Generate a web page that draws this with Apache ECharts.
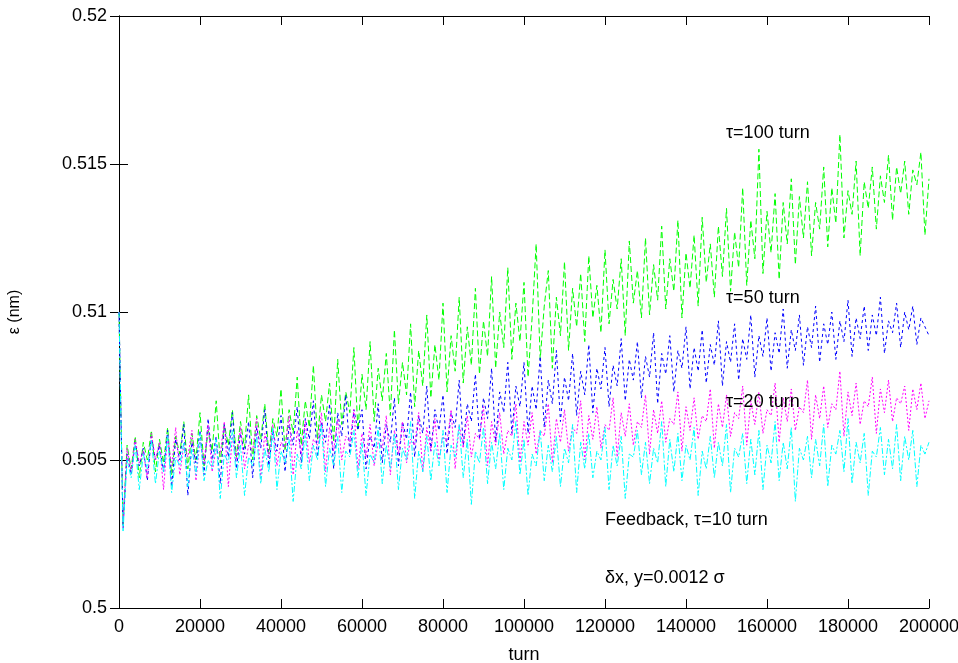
<!DOCTYPE html>
<html>
<head>
<meta charset="utf-8">
<script src="https://cdn.jsdelivr.net/npm/echarts@6/dist/echarts.min.js"></script>
<style>
    html, body { margin: 0; padding: 0; background: #fff; }
    #chart { width: 958px; height: 663px; }
</style>
</head>
<body>
<div id="chart"></div>
<script>
// sample spacing of the runs (turns)
const turnStep = 1000

// tau = 100 turn
const tau100 = [
    0.5100, 0.5028, 0.5055, 0.5047, 0.5058, 0.5044, 0.5056, 0.5050, 0.5060, 0.5046,
    0.5057, 0.5049, 0.5061, 0.5045, 0.5058, 0.5052, 0.5063, 0.5047, 0.5059, 0.5050,
    0.5066, 0.5048, 0.5060, 0.5053, 0.5070, 0.5049, 0.5062, 0.5055, 0.5067, 0.5051,
    0.5063, 0.5054, 0.5072, 0.5050, 0.5065, 0.5057, 0.5069, 0.5052, 0.5064, 0.5058,
    0.5074, 0.5053, 0.5067, 0.5059, 0.5078, 0.5055, 0.5070, 0.5061, 0.5082, 0.5057,
    0.5072, 0.5063, 0.5076, 0.5056, 0.5084, 0.5062, 0.5073, 0.5066, 0.5088, 0.5060,
    0.5079, 0.5067, 0.5090, 0.5063, 0.5081, 0.5070, 0.5086, 0.5065, 0.5094, 0.5069,
    0.5083, 0.5072, 0.5096, 0.5068, 0.5087, 0.5075, 0.5099, 0.5071, 0.5089, 0.5077,
    0.5103, 0.5073, 0.5092, 0.5080, 0.5105, 0.5076, 0.5095, 0.5082, 0.5108, 0.5079,
    0.5097, 0.5085, 0.5112, 0.5081, 0.5100, 0.5088, 0.5115, 0.5084, 0.5103, 0.5090,
    0.5110, 0.5078, 0.5098, 0.5123, 0.5084, 0.5102, 0.5114, 0.5081, 0.5105, 0.5092,
    0.5117, 0.5087, 0.5108, 0.5095, 0.5113, 0.5090, 0.5119, 0.5098, 0.5109, 0.5093,
    0.5121, 0.5096, 0.5111, 0.5101, 0.5118, 0.5092, 0.5124, 0.5103, 0.5114, 0.5098,
    0.5125, 0.5099, 0.5116, 0.5104, 0.5129, 0.5101, 0.5118, 0.5107, 0.5131, 0.5098,
    0.5120, 0.5108, 0.5126, 0.5102, 0.5132, 0.5110, 0.5123, 0.5105, 0.5129, 0.5112,
    0.5135, 0.5107, 0.5127, 0.5115, 0.5142, 0.5109, 0.5131, 0.5118, 0.5155, 0.5113,
    0.5134, 0.5120, 0.5140, 0.5111, 0.5137, 0.5123, 0.5145, 0.5116, 0.5139, 0.5125,
    0.5144, 0.5119, 0.5137, 0.5128, 0.5149, 0.5122, 0.5142, 0.5130, 0.5160, 0.5125,
    0.5141, 0.5133, 0.5151, 0.5119, 0.5144, 0.5135, 0.5149, 0.5128, 0.5146, 0.5137,
    0.5153, 0.5131, 0.5149, 0.5140, 0.5151, 0.5133, 0.5148, 0.5143, 0.5154, 0.5126,
    0.5145
]

// tau = 50 turn
const tau50 = [
    0.5100, 0.5027, 0.5052, 0.5045, 0.5056, 0.5048, 0.5054, 0.5043, 0.5058, 0.5050,
    0.5055, 0.5046, 0.5060, 0.5041, 0.5057, 0.5050, 0.5062, 0.5038, 0.5056, 0.5049,
    0.5060, 0.5045, 0.5064, 0.5050, 0.5058, 0.5042, 0.5062, 0.5051, 0.5066, 0.5047,
    0.5059, 0.5052, 0.5063, 0.5044, 0.5061, 0.5054, 0.5067, 0.5048, 0.5060, 0.5053,
    0.5065, 0.5046, 0.5062, 0.5055, 0.5068, 0.5049, 0.5064, 0.5057, 0.5070, 0.5051,
    0.5063, 0.5056, 0.5069, 0.5047, 0.5066, 0.5058, 0.5072, 0.5052, 0.5067, 0.5060,
    0.5067, 0.5047, 0.5058, 0.5054, 0.5069, 0.5049, 0.5062, 0.5056, 0.5071, 0.5048,
    0.5063, 0.5057, 0.5073, 0.5051, 0.5065, 0.5059, 0.5075, 0.5053, 0.5067, 0.5060,
    0.5072, 0.5052, 0.5066, 0.5061, 0.5077, 0.5055, 0.5069, 0.5063, 0.5079, 0.5057,
    0.5071, 0.5064, 0.5081, 0.5056, 0.5073, 0.5066, 0.5083, 0.5059, 0.5075, 0.5068,
    0.5083, 0.5059, 0.5075, 0.5067, 0.5085, 0.5061, 0.5077, 0.5069, 0.5087, 0.5063,
    0.5078, 0.5070, 0.5086, 0.5065, 0.5080, 0.5072, 0.5089, 0.5066, 0.5081, 0.5074,
    0.5088, 0.5068, 0.5082, 0.5075, 0.5091, 0.5070, 0.5084, 0.5077, 0.5090, 0.5071,
    0.5085, 0.5078, 0.5093, 0.5069, 0.5086, 0.5079, 0.5092, 0.5073, 0.5087, 0.5081,
    0.5095, 0.5074, 0.5088, 0.5080, 0.5094, 0.5076, 0.5089, 0.5082, 0.5097, 0.5075,
    0.5090, 0.5083, 0.5096, 0.5077, 0.5091, 0.5084, 0.5099, 0.5078, 0.5092, 0.5085,
    0.5098, 0.5080, 0.5093, 0.5086, 0.5101, 0.5081, 0.5094, 0.5087, 0.5099, 0.5082,
    0.5095, 0.5088, 0.5102, 0.5083, 0.5096, 0.5089, 0.5100, 0.5084, 0.5097, 0.5090,
    0.5104, 0.5085, 0.5098, 0.5091, 0.5102, 0.5087, 0.5099, 0.5092, 0.5105, 0.5086,
    0.5097, 0.5093, 0.5103, 0.5088, 0.5100, 0.5094, 0.5102, 0.5089, 0.5098, 0.5095,
    0.5092
]

// tau = 20 turn
const tau20 = [
    0.5100, 0.5029, 0.5054, 0.5046, 0.5057, 0.5049, 0.5053, 0.5044, 0.5059, 0.5050,
    0.5056, 0.5040, 0.5058, 0.5048, 0.5061, 0.5045, 0.5055, 0.5051, 0.5060, 0.5043,
    0.5057, 0.5049, 0.5062, 0.5046, 0.5054, 0.5052, 0.5063, 0.5041, 0.5058, 0.5050,
    0.5061, 0.5047, 0.5055, 0.5053, 0.5064, 0.5044, 0.5059, 0.5051, 0.5062, 0.5048,
    0.5056, 0.5054, 0.5065, 0.5045, 0.5060, 0.5052, 0.5063, 0.5049, 0.5057, 0.5055,
    0.5066, 0.5046, 0.5061, 0.5053, 0.5064, 0.5050, 0.5058, 0.5056, 0.5067, 0.5047,
    0.5059, 0.5051, 0.5062, 0.5048, 0.5056, 0.5054, 0.5065, 0.5045, 0.5060, 0.5052,
    0.5063, 0.5049, 0.5057, 0.5055, 0.5066, 0.5046, 0.5061, 0.5053, 0.5064, 0.5050,
    0.5058, 0.5056, 0.5067, 0.5047, 0.5062, 0.5054, 0.5065, 0.5051, 0.5059, 0.5057,
    0.5068, 0.5048, 0.5063, 0.5055, 0.5066, 0.5052, 0.5060, 0.5058, 0.5069, 0.5049,
    0.5063, 0.5055, 0.5066, 0.5052, 0.5060, 0.5058, 0.5069, 0.5049, 0.5064, 0.5056,
    0.5067, 0.5053, 0.5061, 0.5059, 0.5070, 0.5050, 0.5065, 0.5057, 0.5068, 0.5054,
    0.5062, 0.5060, 0.5071, 0.5051, 0.5066, 0.5058, 0.5069, 0.5055, 0.5063, 0.5061,
    0.5072, 0.5052, 0.5067, 0.5059, 0.5070, 0.5056, 0.5064, 0.5062, 0.5073, 0.5053,
    0.5068, 0.5060, 0.5071, 0.5057, 0.5065, 0.5063, 0.5074, 0.5054, 0.5069, 0.5061,
    0.5072, 0.5058, 0.5066, 0.5064, 0.5075, 0.5055, 0.5070, 0.5062, 0.5073, 0.5059,
    0.5067, 0.5065, 0.5076, 0.5056, 0.5071, 0.5063, 0.5074, 0.5060, 0.5068, 0.5066,
    0.5077, 0.5057, 0.5072, 0.5064, 0.5075, 0.5061, 0.5069, 0.5067, 0.5080, 0.5058,
    0.5073, 0.5065, 0.5076, 0.5062, 0.5070, 0.5068, 0.5078, 0.5059, 0.5074, 0.5066,
    0.5077, 0.5063, 0.5071, 0.5069, 0.5075, 0.5060, 0.5074, 0.5067, 0.5076, 0.5064,
    0.5070
]

// feedback, tau = 10 turn
const tau10 = [
    0.5100, 0.5026, 0.5050, 0.5044, 0.5055, 0.5040, 0.5052, 0.5047, 0.5057, 0.5042,
    0.5053, 0.5046, 0.5058, 0.5039, 0.5051, 0.5048, 0.5056, 0.5041, 0.5054, 0.5045,
    0.5059, 0.5043, 0.5050, 0.5047, 0.5057, 0.5037, 0.5052, 0.5049, 0.5060, 0.5044,
    0.5055, 0.5038, 0.5051, 0.5048, 0.5058, 0.5042, 0.5054, 0.5046, 0.5061, 0.5040,
    0.5053, 0.5049, 0.5057, 0.5036, 0.5052, 0.5047, 0.5059, 0.5043, 0.5055, 0.5050,
    0.5062, 0.5041, 0.5054, 0.5048, 0.5058, 0.5039, 0.5053, 0.5051, 0.5060, 0.5044,
    0.5056, 0.5038, 0.5052, 0.5049, 0.5061, 0.5042, 0.5055, 0.5047, 0.5059, 0.5040,
    0.5054, 0.5050, 0.5063, 0.5037, 0.5053, 0.5046, 0.5058, 0.5043, 0.5056, 0.5048,
    0.5060, 0.5039, 0.5055, 0.5051, 0.5062, 0.5044, 0.5057, 0.5035, 0.5053, 0.5049,
    0.5061, 0.5042, 0.5056, 0.5047, 0.5059, 0.5040, 0.5054, 0.5050, 0.5063, 0.5045,
    0.5057, 0.5038, 0.5052, 0.5048, 0.5060, 0.5043, 0.5055, 0.5046, 0.5058, 0.5041,
    0.5054, 0.5049, 0.5062, 0.5039, 0.5056, 0.5047, 0.5059, 0.5044, 0.5053, 0.5050,
    0.5061, 0.5040, 0.5055, 0.5048, 0.5058, 0.5037, 0.5052, 0.5051, 0.5060, 0.5045,
    0.5056, 0.5042, 0.5054, 0.5049, 0.5063, 0.5041, 0.5057, 0.5046, 0.5059, 0.5043,
    0.5055, 0.5050, 0.5061, 0.5038, 0.5053, 0.5047, 0.5058, 0.5044, 0.5056, 0.5048,
    0.5062, 0.5039, 0.5054, 0.5051, 0.5059, 0.5042, 0.5057, 0.5045, 0.5060, 0.5040,
    0.5055, 0.5049, 0.5063, 0.5043, 0.5056, 0.5047, 0.5061, 0.5036, 0.5054, 0.5050,
    0.5058, 0.5044, 0.5057, 0.5048, 0.5062, 0.5041, 0.5055, 0.5052, 0.5060, 0.5046,
    0.5064, 0.5042, 0.5056, 0.5049, 0.5059, 0.5038, 0.5053, 0.5051, 0.5061, 0.5045,
    0.5057, 0.5047, 0.5062, 0.5043, 0.5058, 0.5050, 0.5060, 0.5041, 0.5055, 0.5052,
    0.5056
]

const labels = [
    { text: 'τ=100 turn', x: 726, y: 133 },
    { text: 'τ=50 turn', x: 726, y: 298 },
    { text: 'τ=20 turn', x: 726, y: 402 },
    { text: 'Feedback, τ=10 turn', x: 605, y: 520 },
    { text: 'δx, y=0.0012 σ', x: 605, y: 578 }
]

const font = 'Liberation Sans'

function toPoints(arr) {
    return arr.map((v, i) => [i * turnStep, v])
}

function makeSeries(name, arr, color, dash) {
    return {
        name: name,
        type: 'line',
        data: toPoints(arr),
        showSymbol: false,
        symbol: 'none',
        smooth: false,
        lineStyle: { color: color, width: 1, type: dash },
        emphasis: { disabled: true }
    }
}

const chart = echarts.init(document.getElementById('chart'))

const tickStyle = { show: true, inside: true, length: 9, lineStyle: { color: '#000' } }
const lineStyle = { show: true, lineStyle: { color: '#000', width: 1 } }

chart.setOption({
    animation: false,
    backgroundColor: '#fff',
    grid: { left: 119, right: 29, top: 16, bottom: 55, containLabel: false, outerBoundsMode: 'none' },
    xAxis: [
        {
            type: 'value',
            min: 0,
            max: 200000,
            interval: 20000,
            name: 'turn',
            nameLocation: 'middle',
            nameGap: 38,
            nameTextStyle: { fontFamily: font, fontSize: 18, color: '#000' },
            axisLine: lineStyle,
            axisTick: tickStyle,
            axisLabel: {
                fontFamily: font,
                fontSize: 18,
                color: '#000',
                margin: 10,
                formatter: v => String(v)
            },
            splitLine: { show: false }
        },
        {
            type: 'value',
            position: 'top',
            min: 0,
            max: 200000,
            interval: 20000,
            axisLine: lineStyle,
            axisTick: tickStyle,
            axisLabel: { show: false },
            splitLine: { show: false }
        }
    ],
    yAxis: [
        {
            type: 'value',
            min: 0.5,
            max: 0.52,
            interval: 0.005,
            name: 'ε (nm)',
            nameLocation: 'middle',
            nameGap: 96,
            nameTextStyle: { fontFamily: font, fontSize: 16, color: '#000' },
            axisLine: lineStyle,
            axisTick: tickStyle,
            axisLabel: { fontFamily: font, fontSize: 18, color: '#000', margin: 12 },
            splitLine: { show: false }
        },
        {
            type: 'value',
            position: 'right',
            min: 0.5,
            max: 0.52,
            interval: 0.005,
            axisLine: lineStyle,
            axisTick: tickStyle,
            axisLabel: { show: false },
            splitLine: { show: false }
        }
    ],
    series: [
        makeSeries('τ=100 turn', tau100, '#00ff00', [6, 3]),
        makeSeries('τ=50 turn', tau50, '#0000ff', [3, 3]),
        makeSeries('τ=20 turn', tau20, '#ff00ff', [2, 2]),
        makeSeries('τ=10 turn', tau10, '#00ffff', [6, 2, 2, 2])
    ],
    graphic: labels.map(l => ({
        type: 'text',
        z: 100,
        style: {
            text: l.text,
            x: l.x,
            y: l.y,
            fill: '#000',
            font: '18px "' + font + '"',
            verticalAlign: 'middle'
        }
    }))
})
</script>
</body>
</html>
